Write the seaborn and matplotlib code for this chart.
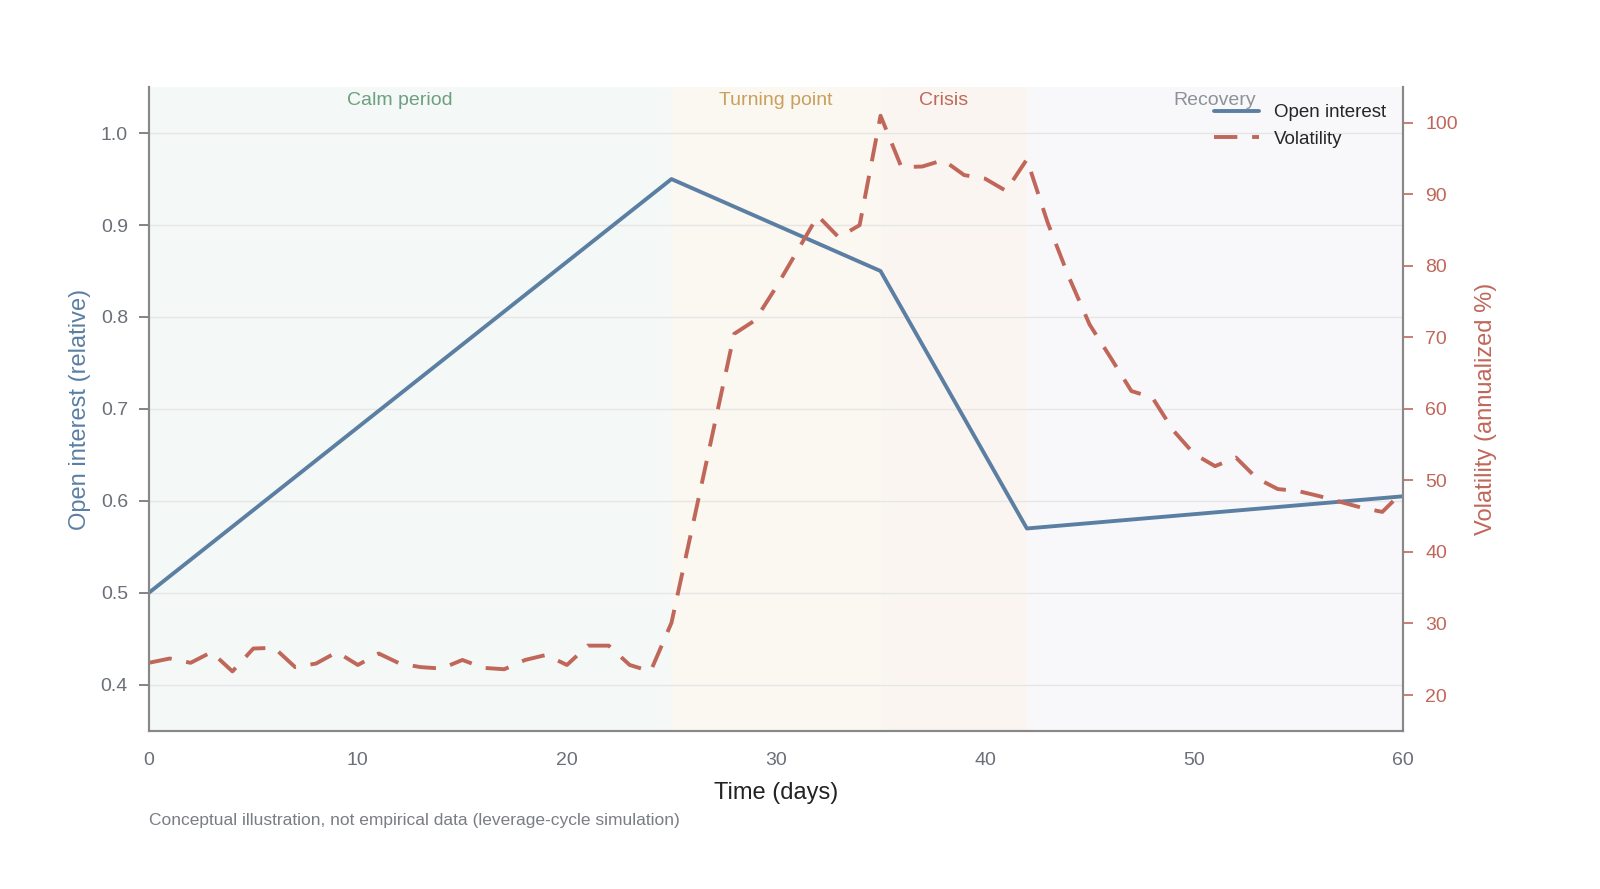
import seaborn as sns
import matplotlib.pyplot as plt
import pandas as pd

sns.set_style("white")
plt.rcParams['font.family'] = ['Liberation Sans', 'DejaVu Sans']

# open interest breakpoints (relative)
oi_days = [0, 25, 35, 42, 60]
oi_vals = [0.5, 0.95, 0.85, 0.57, 0.605]

# volatility, one value per day (annualized %)
vol_days = list(range(61))
vol_vals = [24.5, 25.1, 24.5, 26.0, 23.3, 26.5, 26.6, 23.9, 24.4, 26.0,
            24.2, 25.8, 24.4, 23.9, 23.7, 24.9, 23.8, 23.6, 24.9, 25.6,
            24.2, 26.9, 26.9, 24.2, 23.3, 30.1, 43.5, 57.0, 70.5, 72.4,
            77.0, 82.0, 87.0, 84.0, 85.7, 101.0, 93.8, 93.9, 94.8, 92.7,
            92.2, 90.5, 94.9, 86.0, 78.5, 71.8, 67.2, 62.5, 61.6, 57.0,
            53.7, 52.0, 53.2, 50.3, 48.8, 48.5, 47.8, 47.0, 46.2, 45.6, 48.5]

# phases
phase_names = ["Calm period", "Turning point", "Crisis", "Recovery"]
phase_start = [0, 25, 35, 42]
phase_end = [25, 35, 42, 60]
phase_fill = ["#f4f8f7", "#fbf7f1", "#faf5f1", "#f8f8fa"]
phase_text = ["#6e9f80", "#c9a05e", "#c0675a", "#8e9199"]
phase_label_x = [12, 30, 38, 51]

blue = "#5b7fa3"
red = "#c0675a"
grey = "#6b6f76"

df_oi = pd.DataFrame({"day": oi_days, "oi": oi_vals})
df_vol = pd.DataFrame({"day": vol_days, "vol": vol_vals})

fig = plt.figure(figsize=(16, 8.89), dpi=100)
ax = fig.add_axes([0.093, 0.178, 0.784, 0.724])
ax2 = ax.twinx()

for s, e, c in zip(phase_start, phase_end, phase_fill):
    ax.axvspan(s, e, color=c, zorder=0, lw=0)

ax.grid(axis='y', color='#e6e6e6', lw=1)
ax.set_axisbelow(True)

sns.lineplot(data=df_oi, x="day", y="oi", ax=ax, color=blue, lw=2.8, label="Open interest", legend=False)
sns.lineplot(data=df_vol, x="day", y="vol", ax=ax2, color=red, lw=2.8, label="Volatility", legend=False)
ax2.lines[0].set_dashes([6, 3.8])

ax.set_xlim(0, 60)
ax.set_ylim(0.35, 1.05)
ax2.set_ylim(15, 105)
ax.set_yticks([0.4, 0.5, 0.6, 0.7, 0.8, 0.9, 1.0])
ax2.set_yticks(range(20, 101, 10))

for name, x, c in zip(phase_names, phase_label_x, phase_text):
    ax.text(x, 1.045, name, color=c, fontsize=14, ha='center', va='top')

ax.set_xlabel("Time (days)", fontsize=17, color='#222222', labelpad=10)
ax.set_ylabel("Open interest (relative)", fontsize=17, color=blue, labelpad=7)
ax2.set_ylabel("Volatility (annualized %)", fontsize=17, color=red, labelpad=12)

ax.tick_params(axis='both', labelsize=14, colors=grey, length=7, width=1.2, pad=8)
ax2.tick_params(axis='y', labelsize=14, colors=red, length=7, width=1.2, pad=9)

for a in (ax, ax2):
    for sp in a.spines.values():
        sp.set_color('#888888')
        sp.set_linewidth(1.5)
    a.spines['top'].set_visible(False)

h1, l1 = ax.get_legend_handles_labels()
h2, l2 = ax2.get_legend_handles_labels()
leg = ax2.legend(h1 + h2, l1 + l2, loc='upper right', frameon=False, fontsize=13.5,
                 bbox_to_anchor=(1.0, 1.0), handlelength=2.4, labelspacing=0.5)

fig.text(0.093, 0.072, "Conceptual illustration, not empirical data (leverage-cycle simulation)",
         fontsize=12.5, color='#7a7d84')

fig.savefig("out.png", dpi=100)
